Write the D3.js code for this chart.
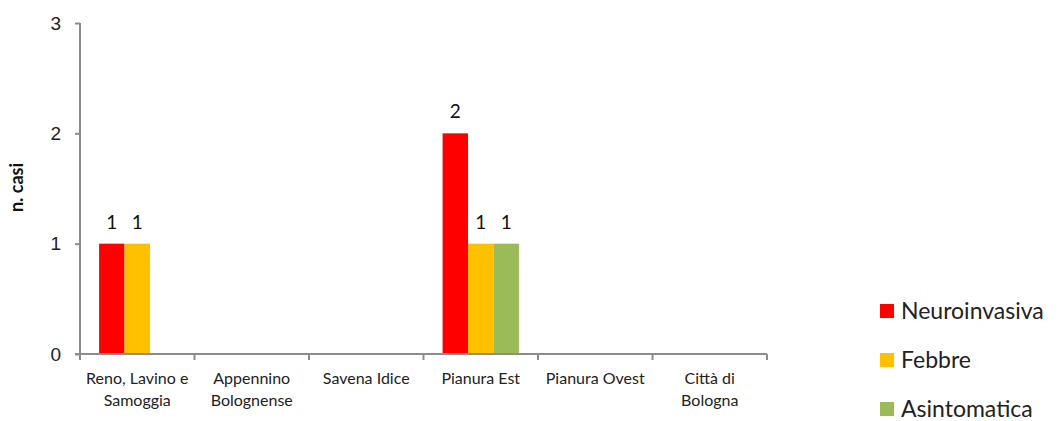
<!DOCTYPE html>
<html>
<head>
<meta charset="utf-8">
<script src="https://cdn.jsdelivr.net/npm/d3@7"></script>
<style>
  body { margin: 0; background: #fff; }
  svg { font-family: Lato, "Liberation Sans", sans-serif; }
  .axis path, .axis line { stroke: #8c8c8c; stroke-width: 2; }
  .axis text { fill: #222; }
</style>
</head>
<body>
<div id="chart"></div>
<script>
const categories = [["Reno, Lavino e", "Samoggia"], ["Appennino", "Bolognense"], ["Savena Idice"],
    ["Pianura Est"], ["Pianura Ovest"], ["Città di", "Bologna"]];
const seriesNames = ["Neuroinvasiva", "Febbre", "Asintomatica"];
const seriesColors = ["#ff0000", "#ffc000", "#9bbb59"];
const neuroinvasiva = [1, 0, 0, 2, 0, 0];
const febbre = [1, 0, 0, 1, 0, 0];
const asintomatica = [0, 0, 0, 1, 0, 0];
const yTicks = [0, 1, 2, 3];

const width = 1061, height = 421;
const margin = { left: 80, top: 23, right: 294, bottom: 67 };
const w = width - margin.left - margin.right;
const h = height - margin.top - margin.bottom;

const series = [neuroinvasiva, febbre, asintomatica];

var svg = d3.select("#chart")
    .append("svg")
    .attr("width", width)
    .attr("height", height)
    .append("g")
    .attr("transform", "translate(" + margin.left + "," + margin.top + ")");

var xScale = d3.scaleBand()
    .domain(d3.range(categories.length))
    .range([0, w]);

var xInner = d3.scaleBand()
    .domain(d3.range(seriesNames.length))
    .range([0, xScale.bandwidth()])
    .paddingInner(0)
    .paddingOuter(0.75);

var yScale = d3.scaleLinear()
    .domain([0, 3])
    .range([h, 0]);

// bars + value labels (zero values are not drawn)
series.forEach(function (vals, s) {
    var pts = vals.map(function (v, i) { return { i: i, v: v }; })
        .filter(function (d) { return d.v > 0; });

    svg.append("g")
        .selectAll("rect")
        .data(pts)
        .enter().append("rect")
        .attr("x", function (d) { return xScale(d.i) + xInner(s); })
        .attr("y", function (d) { return yScale(d.v); })
        .attr("width", xInner.bandwidth())
        .attr("height", function (d) { return h - yScale(d.v); })
        .attr("fill", seriesColors[s]);

    svg.append("g")
        .selectAll("text")
        .data(pts)
        .enter().append("text")
        .attr("x", function (d) { return xScale(d.i) + xInner(s) + xInner.bandwidth() / 2; })
        .attr("y", function (d) { return yScale(d.v) - 15; })
        .attr("text-anchor", "middle")
        .style("font-size", "19px")
        .style("fill", "#111")
        .text(function (d) { return d.v; });
});

// y axis
var yAxis = d3.axisLeft()
    .scale(yScale)
    .tickValues(yTicks)
    .tickFormat(d3.format("d"))
    .tickSize(5)
    .tickPadding(14);

svg.append("g")
    .attr("class", "axis")
    .call(yAxis)
    .call(function (g) { g.select(".domain").attr("d", "M0," + h + "V0"); })
    .selectAll("text")
    .style("font-size", "19px");

// x axis, ticks on category boundaries
var edges = d3.range(categories.length + 1).map(function (i) { return i * xScale.step(); });
var xg = svg.append("g")
    .attr("class", "axis")
    .attr("transform", "translate(0," + h + ")");
xg.append("path")
    .attr("d", "M-5,0H" + w);
xg.selectAll("line")
    .data(edges)
    .enter().append("line")
    .attr("x1", function (d) { return d; })
    .attr("x2", function (d) { return d; })
    .attr("y1", 0)
    .attr("y2", 6);

xg.selectAll("text.cat")
    .data(categories)
    .enter().append("text")
    .attr("class", "cat")
    .attr("x", function (d, i) { return xScale(i) + xScale.bandwidth() / 2; })
    .attr("y", 30)
    .attr("text-anchor", "middle")
    .style("font-size", "16px")
    .selectAll("tspan")
    .data(function (d) { return d; })
    .enter().append("tspan")
    .attr("x", function () { return this.parentNode.getAttribute("x"); })
    .attr("dy", function (d, j) { return j === 0 ? 0 : 22; })
    .text(function (d) { return d; });

// y title
svg.append("text")
    .attr("transform", "translate(" + (-57) + "," + (h / 2 - 1) + ") rotate(-90)")
    .attr("text-anchor", "middle")
    .style("font-size", "18px")
    .style("font-weight", "bold")
    .style("fill", "#111")
    .text("n. casi");

// legend
var legend = d3.select("#chart svg").append("g")
    .attr("transform", "translate(880,311)");
seriesNames.forEach(function (name, s) {
    var row = legend.append("g").attr("transform", "translate(0," + (s * 49) + ")");
    row.append("rect")
        .attr("x", 0).attr("y", -7)
        .attr("width", 14).attr("height", 14)
        .attr("fill", seriesColors[s]);
    row.append("text")
        .attr("x", 21).attr("y", 8)
        .style("font-size", "23px")
        .style("fill", "#222")
        .text(name);
});
</script>
</body>
</html>
